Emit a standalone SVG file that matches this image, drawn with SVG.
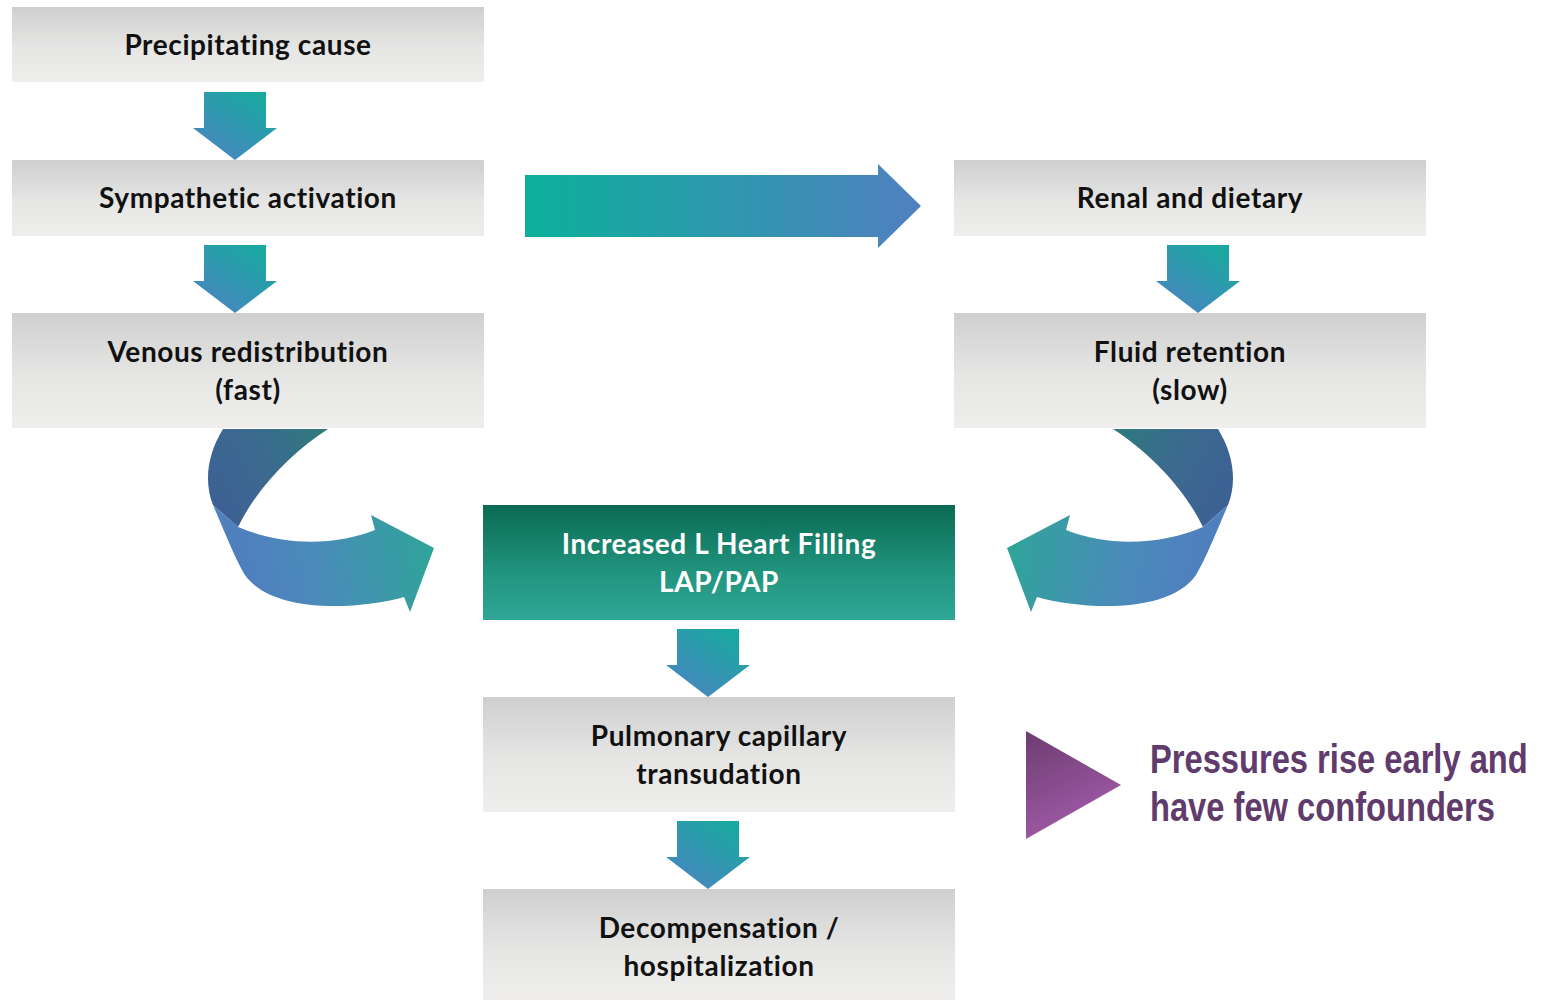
<svg xmlns="http://www.w3.org/2000/svg" width="1541" height="1000" viewBox="0 0 1541 1000">
<defs>
<linearGradient id="boxG" x1="0" y1="0" x2="0" y2="1"><stop offset="0" stop-color="#cfcfcf"/><stop offset="0.55" stop-color="#e6e6e5"/><stop offset="1" stop-color="#efeeec"/></linearGradient>
<linearGradient id="keyG" x1="0" y1="0" x2="0" y2="1"><stop offset="0" stop-color="#0a6a53"/><stop offset="0.6" stop-color="#22957f"/><stop offset="1" stop-color="#2fa697"/></linearGradient>
<linearGradient id="downG" x1="1" y1="0" x2="0.2" y2="1"><stop offset="0" stop-color="#12ae9a"/><stop offset="1" stop-color="#4a84c2"/></linearGradient>
<linearGradient id="rightG" x1="0" y1="0" x2="1" y2="0"><stop offset="0" stop-color="#0bb09b"/><stop offset="1" stop-color="#5080c0"/></linearGradient>
<linearGradient id="frontG" x1="213" y1="560" x2="434" y2="520" gradientUnits="userSpaceOnUse"><stop offset="0.15" stop-color="#4f80be"/><stop offset="0.45" stop-color="#4a8bba"/><stop offset="1" stop-color="#2ea598"/></linearGradient>
<linearGradient id="backG" x1="210" y1="500" x2="330" y2="430" gradientUnits="userSpaceOnUse"><stop offset="0" stop-color="#3d6094"/><stop offset="0.5" stop-color="#3b6a8f"/><stop offset="1" stop-color="#2d7b7c"/></linearGradient>
<linearGradient id="triG" x1="0" y1="0" x2="0.4" y2="1"><stop offset="0" stop-color="#6c3d70"/><stop offset="1" stop-color="#a15aa8"/></linearGradient>
<path id="down" d="M11,0 H73 V36 H84 L42,68 L0,36 H11 Z"/>
<g id="curve">
<path d="M223,429 L328,429 C292,452 257,488 238,527 L213,505 C204,482 207,455 223,429 Z" fill="url(#backG)"/>
<path d="M213,505 L238,527 C282,546 335,546 375,530 L371,515 L434,548 L410,612 L404,597 C358,610 272,614 245,575 C236,560 228,540 213,505 Z" fill="url(#frontG)"/>
</g>
</defs>
<style>
.box{fill:url(#boxG)}
.t{font-family:Lato,"Open Sans",sans-serif;font-weight:bold;font-size:28px;letter-spacing:0.6px;fill:#111;text-anchor:middle}
.w{fill:#fff}
.p{font-family:"Liberation Sans",Arial,sans-serif;font-weight:bold;font-size:41px;fill:#603b6c}
</style>
<g id="connectors">
<use href="#down" x="193" y="92" fill="url(#downG)"/>
<use href="#down" x="193" y="245" fill="url(#downG)"/>
<use href="#down" x="1156" y="245" fill="url(#downG)"/>
<use href="#down" x="666" y="629" fill="url(#downG)"/>
<use href="#down" x="666" y="821" fill="url(#downG)"/>
<path d="M525,175 H878 V164 L921,206 L878,248 V237 H525 Z" fill="url(#rightG)"/>
<use href="#curve"/>
<use href="#curve" transform="translate(1441,0) scale(-1,1)"/>
</g>
<g id="n1"><rect class="box" x="12" y="7" width="472" height="75"/><text class="t" x="248" y="55">Precipitating cause</text></g>
<g id="n2"><rect class="box" x="12" y="160" width="472" height="76"/><text class="t" x="248" y="208">Sympathetic activation</text></g>
<g id="n3"><rect class="box" x="12" y="313" width="472" height="115"/><text class="t" x="248" y="362">Venous redistribution</text><text class="t" x="248" y="400">(fast)</text></g>
<g id="n4"><rect class="box" x="954" y="160" width="472" height="76"/><text class="t" x="1190" y="208">Renal and dietary</text></g>
<g id="n5"><rect class="box" x="954" y="313" width="472" height="115"/><text class="t" x="1190" y="362">Fluid retention</text><text class="t" x="1190" y="400">(slow)</text></g>
<g id="n6"><rect x="483" y="505" width="472" height="115" fill="url(#keyG)"/><text class="t w" x="719" y="554">Increased L Heart Filling</text><text class="t w" x="719" y="592">LAP/PAP</text></g>
<g id="n7"><rect class="box" x="483" y="697" width="472" height="115"/><text class="t" x="719" y="746">Pulmonary capillary</text><text class="t" x="719" y="784">transudation</text></g>
<g id="n8"><rect class="box" x="483" y="889" width="472" height="111"/><text class="t" x="719" y="938">Decompensation /</text><text class="t" x="719" y="976">hospitalization</text></g>
<g id="note">
<path d="M1026,731 L1121,785 L1026,839 Z" fill="url(#triG)"/>
<text class="p" transform="translate(1150,773) scale(0.797,1)">Pressures rise early and</text>
<text class="p" transform="translate(1150,821) scale(0.797,1)">have few confounders</text>
</g>
</svg>
